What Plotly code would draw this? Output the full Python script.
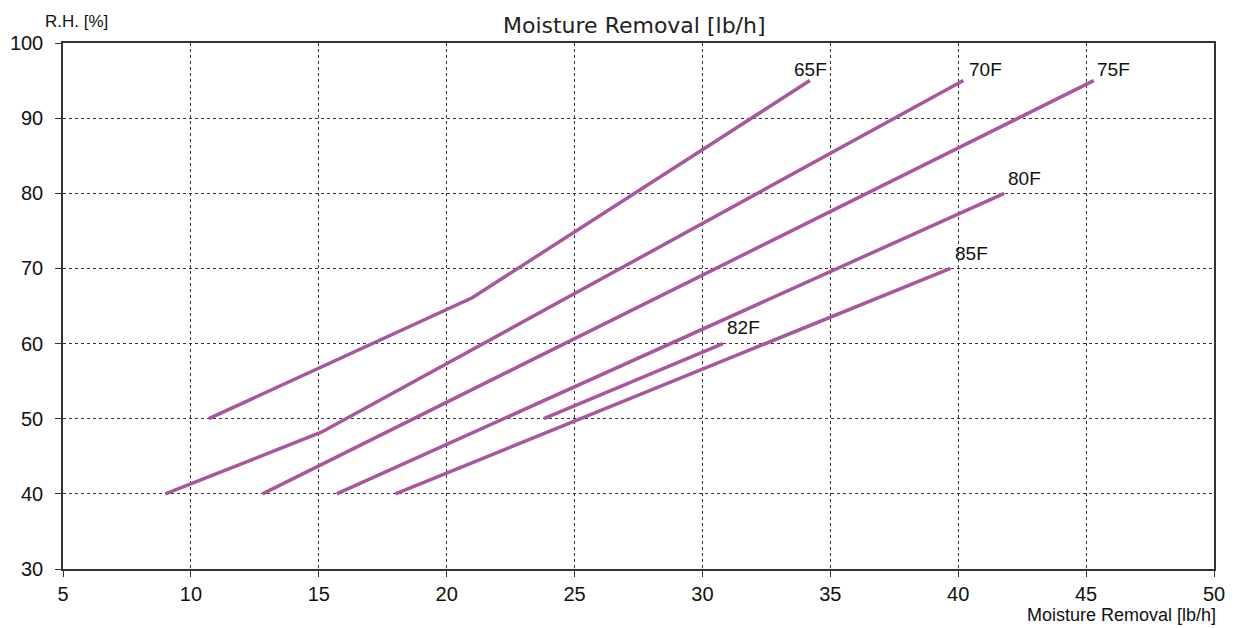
import plotly.graph_objects as go

# Data
series_names = ["65F", "70F", "75F", "80F", "82F", "85F"]
x_65 = [10.7, 21.0, 34.2]
y_65 = [50, 66.1, 95]
x_70 = [9.0, 15.1, 40.2]
y_70 = [40, 48.2, 95]
x_75 = [12.8, 45.3]
y_75 = [40, 95]
x_80 = [15.7, 41.8]
y_80 = [40, 80]
x_82 = [23.8, 30.8]
y_82 = [50, 60]
x_85 = [18.0, 39.7]
y_85 = [40, 70]

label_x = [33.5, 40.35, 45.35, 41.85, 30.9, 39.8]
label_y = [96.5, 96.5, 96.5, 82.0, 62.1, 72.0]

x_ticks = [5, 10, 15, 20, 25, 30, 35, 40, 45, 50]
y_ticks = [30, 40, 50, 60, 70, 80, 90, 100]

LINE_COLOR = "#A8579F"
FONT = "Liberation Sans"

xs = [x_65, x_70, x_75, x_80, x_82, x_85]
ys = [y_65, y_70, y_75, y_80, y_82, y_85]

fig = go.Figure()
for name, xv, yv in zip(series_names, xs, ys):
    fig.add_trace(go.Scatter(x=xv, y=yv, mode="lines", name=name,
                             line=dict(color=LINE_COLOR, width=3.5),
                             showlegend=False))

for name, lx, ly in zip(series_names, label_x, label_y):
    fig.add_annotation(x=lx, y=ly, text=name, showarrow=False,
                       xanchor="left", yanchor="middle",
                       font=dict(family=FONT, size=19, color="#111"))

fig.add_annotation(xref="paper", yref="paper", x=-0.0175, y=1.04, text="R.H. [%]",
                   showarrow=False, xanchor="left", yanchor="middle",
                   font=dict(family=FONT, size=17, color="#111"))
fig.add_annotation(xref="paper", yref="paper", x=1.0035, y=-0.0875,
                   text="Moisture Removal [lb/h]", showarrow=False,
                   xanchor="right", yanchor="middle",
                   font=dict(family=FONT, size=18, color="#111"))

axis_common = dict(
    showgrid=True, gridcolor="#333", griddash="dot", gridwidth=1,
    showline=True, linecolor="#333", linewidth=1.5, mirror=True,
    ticks="outside", ticklen=6, tickcolor="#333", tickwidth=1,
    zeroline=False, automargin=False,
    tickfont=dict(family=FONT, size=20, color="#111"),
)

fig.update_xaxes(range=[5, 50], tickvals=x_ticks, **axis_common)
fig.update_yaxes(range=[30, 100], tickvals=y_ticks, ticklabelstandoff=8, **axis_common)

fig.update_layout(
    width=1240, height=628,
    margin=dict(l=63, r=26, t=43, b=59),
    plot_bgcolor="white", paper_bgcolor="white",
    title=dict(text="Moisture Removal [lb/h]", x=0.5115, xanchor="center",
               y=1 - 25 / 628, yanchor="middle",
               font=dict(family="DejaVu Sans", size=22, color="#222")),
)

fig.write_html("out.html", config={"displayModeBar": False},
               post_script="document.body.style.margin='0';document.body.style.overflow='hidden';")
